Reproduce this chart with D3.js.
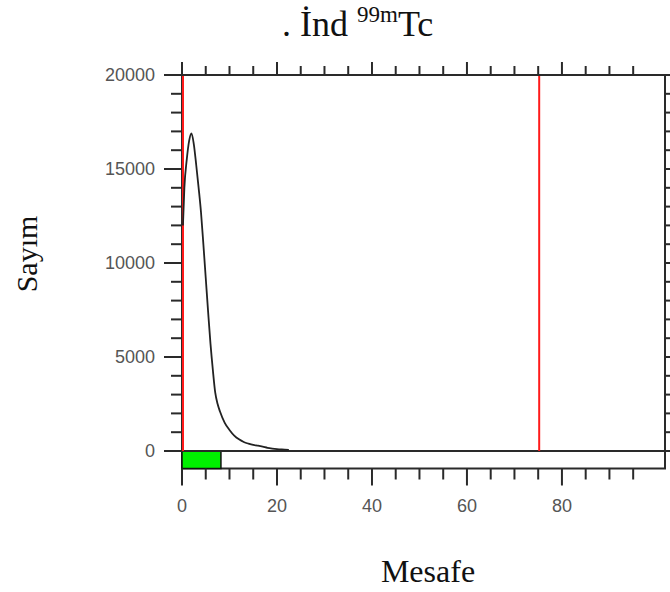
<!DOCTYPE html>
<html>
<head>
<meta charset="utf-8">
<script src="https://cdn.jsdelivr.net/npm/d3@7/dist/d3.min.js"></script>
<style>
  html, body { margin: 0; padding: 0; background: #fff; }
  svg { display: block; }
</style>
</head>
<body>
<svg id="chart" width="670" height="592"></svg>
<script>
// ---- data ----
const distance = [0.2, 0.5, 1.0, 1.5, 2.0, 2.5, 3.0, 3.5, 4.0, 4.5, 5.0, 5.5, 6.0, 6.5, 7.0, 7.5, 8.0, 9.0, 10.0, 11.0, 12.0, 13.0, 14.0, 15.0, 16.0, 17.0, 18.0, 19.0, 20.0, 21.0, 22.5];
const counts   = [12000, 14000, 15500, 16500, 16900, 16300, 15200, 14000, 12700, 11000, 9200, 7400, 5700, 4300, 3100, 2500, 2100, 1500, 1120, 820, 620, 480, 390, 320, 280, 230, 170, 130, 100, 80, 60];
const redMarkers = [0, 75];
const greenRegion = [0, 8.2];
const xTickLabels = [0, 20, 40, 60, 80];
const yTickLabels = [0, 5000, 10000, 15000, 20000];
const titleMain = ". İnd ";
const titleSup = "99m";
const titleEnd = "Tc";
const xTitle = "Mesafe";
const yTitle = "Sayım";

// ---- layout ----
const svg = d3.select("#chart");
const L = 182, R = 665, T = 75, zeroY = 451, stripBottom = 468.5;
const x = d3.scaleLinear().domain([0, 101.7]).range([L, R]);
const y = d3.scaleLinear().domain([0, 20000]).range([zeroY, T]);
const axisColor = "#2a2a2a";

// frame
svg.append("rect")
  .attr("x", L).attr("y", T)
  .attr("width", R - L).attr("height", stripBottom - T)
  .attr("fill", "#fff").attr("stroke", axisColor).attr("stroke-width", 2);

// green region
svg.append("rect")
  .attr("x", x(greenRegion[0])).attr("y", zeroY)
  .attr("width", x(greenRegion[1]) - x(greenRegion[0]))
  .attr("height", stripBottom - zeroY)
  .attr("fill", "#00f000").attr("stroke", "#111").attr("stroke-width", 1.5);

// zero line
svg.append("line")
  .attr("x1", 164).attr("x2", 670)
  .attr("y1", zeroY).attr("y2", zeroY)
  .attr("stroke", axisColor).attr("stroke-width", 2);

// left ticks
const yMinor = d3.range(0, 20001, 1000);
svg.append("g").selectAll("line").data(yMinor).join("line")
  .attr("x1", d => d % 5000 === 0 ? L - 18 : L - 11)
  .attr("x2", L)
  .attr("y1", d => y(d)).attr("y2", d => y(d))
  .attr("stroke", axisColor).attr("stroke-width", 2);
// right ticks
svg.append("g").selectAll("line").data(yMinor).join("line")
  .attr("x1", R).attr("x2", R + 5)
  .attr("y1", d => y(d)).attr("y2", d => y(d))
  .attr("stroke", axisColor).attr("stroke-width", 2);

// y labels
svg.append("g").selectAll("text").data(yTickLabels).join("text")
  .attr("x", 155).attr("y", d => y(d))
  .attr("dy", "0.36em")
  .attr("text-anchor", "end")
  .attr("font-family", "Liberation Sans, Arial, sans-serif")
  .attr("font-size", 18)
  .attr("fill", "#555")
  .text(d => d);

// top & bottom ticks
const xMinor = d3.range(0, 96, 5);
svg.append("g").selectAll("line").data(xMinor).join("line")
  .attr("x1", d => x(d)).attr("x2", d => x(d))
  .attr("y1", T).attr("y2", d => d % 20 === 0 ? T - 13 : T - 9)
  .attr("stroke", axisColor).attr("stroke-width", 2);
svg.append("g").selectAll("line").data(xMinor).join("line")
  .attr("x1", d => x(d)).attr("x2", d => x(d))
  .attr("y1", stripBottom).attr("y2", d => d % 20 === 0 ? stripBottom + 17 : stripBottom + 11)
  .attr("stroke", axisColor).attr("stroke-width", 2);

// x labels
svg.append("g").selectAll("text").data(xTickLabels).join("text")
  .attr("x", d => x(d)).attr("y", 512)
  .attr("text-anchor", "middle")
  .attr("font-family", "Liberation Sans, Arial, sans-serif")
  .attr("font-size", 18)
  .attr("fill", "#555")
  .text(d => d);

// red markers
svg.append("g").selectAll("line").data(redMarkers).join("line")
  .attr("x1", d => x(d) + 1).attr("x2", d => x(d) + 1)
  .attr("y1", T + 1).attr("y2", zeroY)
  .attr("stroke", "#ff1a1a").attr("stroke-width", 2);

// curve
const pts = distance.map((d, i) => [d, counts[i]]);
svg.append("path")
  .datum(pts)
  .attr("d", d3.line().x(d => x(d[0])).y(d => y(d[1])).curve(d3.curveMonotoneX))
  .attr("fill", "none").attr("stroke", "#222").attr("stroke-width", 1.8);

// titles
const t = svg.append("text")
  .attr("x", 282).attr("y", 36)
  .attr("font-family", "Liberation Serif, Times New Roman, serif")
  .attr("font-size", 36).attr("fill", "#111");
t.append("tspan").text(titleMain);
t.append("tspan").attr("font-size", 23).attr("dy", -14).text(titleSup);
t.append("tspan").attr("dy", 14).text(titleEnd);

svg.append("text")
  .attr("x", 428).attr("y", 582)
  .attr("text-anchor", "middle")
  .attr("font-family", "Liberation Serif, Times New Roman, serif")
  .attr("font-size", 32).attr("fill", "#111")
  .text(xTitle);

svg.append("text")
  .attr("transform", "translate(37,254) rotate(-90)")
  .attr("text-anchor", "middle")
  .attr("font-family", "Liberation Serif, Times New Roman, serif")
  .attr("font-size", 30).attr("fill", "#111")
  .text(yTitle);
</script>
</body>
</html>
